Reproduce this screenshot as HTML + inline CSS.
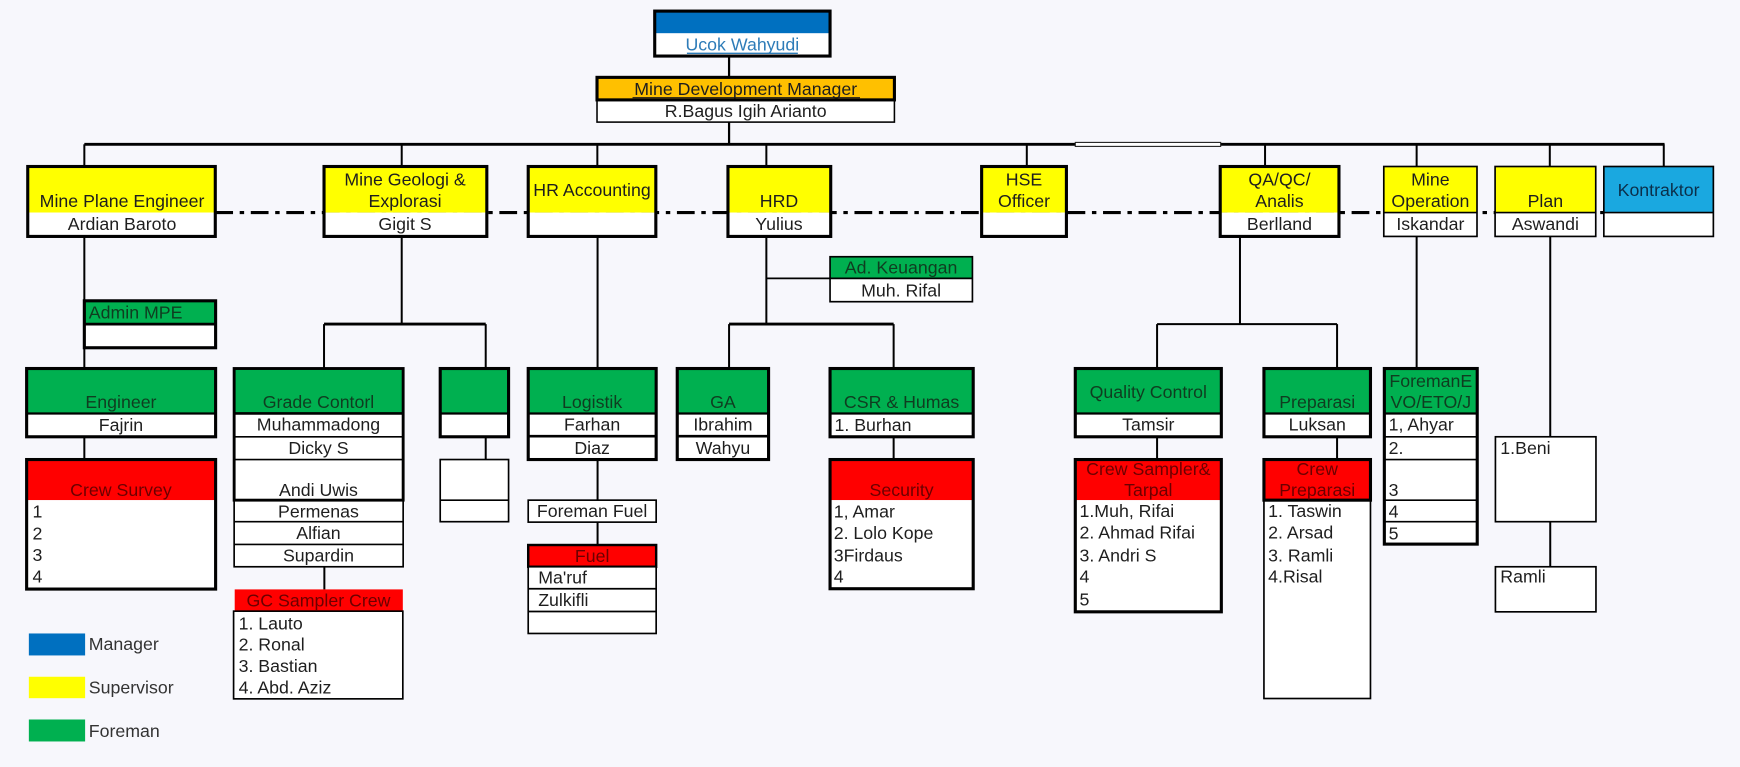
<!DOCTYPE html>
<html><head><meta charset="utf-8"><style>
html,body{margin:0;padding:0;background:#f7f7fc;}
svg{display:block}
.t{font-family:"Liberation Sans",Arial,sans-serif;font-size:16px;fill:#1e1e1e;dominant-baseline:central}
.c{text-anchor:middle}
.g{fill:#0f3d20}
.r{fill:#6b0000}
</style></head><body>
<svg width="1740" height="767" viewBox="0 0 1568 691" preserveAspectRatio="none" xmlns="http://www.w3.org/2000/svg">
<rect x="0" y="0" width="1568" height="691" fill="#f7f7fc"/>

<!-- connectors -->
<g stroke="#000" fill="none">
<line x1="657" y1="50" x2="657" y2="70" stroke-width="2"/>
<line x1="657" y1="110" x2="657" y2="130" stroke-width="2"/>
<line x1="76" y1="130" x2="1500" y2="130" stroke-width="2.6"/>
<g stroke-width="1.8">
<line x1="76" y1="130" x2="76" y2="150"/>
<line x1="362" y1="130" x2="362" y2="150"/>
<line x1="538.3" y1="130" x2="538.3" y2="150"/>
<line x1="690.6" y1="130" x2="690.6" y2="150"/>
<line x1="925.3" y1="130" x2="925.3" y2="150"/>
<line x1="1140" y1="130" x2="1140" y2="150"/>
<line x1="1276.6" y1="130" x2="1276.6" y2="150"/>
<line x1="1396.6" y1="130" x2="1396.6" y2="150"/>
<line x1="1499.3" y1="130" x2="1499.3" y2="150"/>
<!-- MPE -->
<line x1="76" y1="213" x2="76" y2="332"/>
<line x1="76" y1="393.5" x2="76" y2="414"/>
<!-- Geologi -->
<line x1="362" y1="213" x2="362" y2="292"/>
<line x1="292" y1="292" x2="292" y2="332"/>
<line x1="437.7" y1="292" x2="437.7" y2="332"/>
<line x1="437.7" y1="393.5" x2="437.7" y2="414"/>
<line x1="292.3" y1="510.6" x2="292.3" y2="531"/>
<!-- HR Acc -->
<line x1="538.5" y1="213" x2="538.5" y2="332"/>
<line x1="538.5" y1="414" x2="538.5" y2="450.6"/>
<line x1="538.5" y1="470.4" x2="538.5" y2="491"/>
<!-- HRD -->
<line x1="690.6" y1="213" x2="690.6" y2="292"/>
<line x1="690.6" y1="250.8" x2="748" y2="250.8" stroke-width="1.5"/>
<line x1="657" y1="292" x2="657" y2="332"/>
<line x1="805.3" y1="292" x2="805.3" y2="332"/>
<line x1="805.3" y1="393.5" x2="805.3" y2="414"/>
<!-- QA -->
<line x1="1117.4" y1="213" x2="1117.4" y2="292"/>
<line x1="1042.7" y1="292" x2="1042.7" y2="332"/>
<line x1="1204.9" y1="292" x2="1204.9" y2="332"/>
<line x1="1042.7" y1="393.5" x2="1042.7" y2="414"/>
<line x1="1204.9" y1="393.5" x2="1204.9" y2="414"/>
<!-- Mine op -->
<line x1="1276.6" y1="213" x2="1276.6" y2="332"/>
<!-- Plan -->
<line x1="1397" y1="213" x2="1397" y2="393.5"/>
<line x1="1397" y1="470" x2="1397" y2="510.6"/>
</g>
<line x1="292" y1="292" x2="437.7" y2="292" stroke-width="2.6"/>
<line x1="657" y1="292" x2="805.3" y2="292" stroke-width="2.6"/>
<line x1="1042.7" y1="292" x2="1204.9" y2="292" stroke-width="1.8"/>
<!-- dash-dot -->
<line x1="194" y1="191.5" x2="1445" y2="191.5" stroke-width="2.8" stroke-dasharray="16 6 4 6"/>
</g>
<rect x="969" y="128.3" width="131" height="3.6" fill="#fff" stroke="#222" stroke-width="1"/>

<!-- Top: Ucok -->
<rect x="590" y="10" width="158" height="20" fill="#0070c0"/>
<rect x="590" y="30" width="158" height="20.5" fill="#fff"/>
<rect x="590" y="10" width="158" height="40.5" fill="none" stroke="#000" stroke-width="2.8"/>
<text x="669" y="40" class="t c" style="fill:#2e7cb8">Ucok Wahyudi</text>
<line x1="619" y1="48" x2="719" y2="48" stroke="#2e7cb8" stroke-width="1.2"/>

<!-- MDM -->
<rect x="538" y="69.7" width="268" height="20.3" fill="#ffc000"/>
<rect x="538" y="90" width="268" height="20" fill="#fff" stroke="#000" stroke-width="1.4"/>
<rect x="538" y="69.7" width="268" height="20.3" fill="none" stroke="#000" stroke-width="2.8"/>
<text x="672" y="80" class="t c">Mine Development Manager</text>
<line x1="570" y1="88" x2="775" y2="88" stroke="#1e1e1e" stroke-width="1.1"/>
<text x="672" y="100" class="t c">R.Bagus Igih Arianto</text>

<!-- Supervisor boxes -->
<g>
<!-- MPE -->
<rect x="25" y="150" width="169" height="41.5" fill="#ffff00"/>
<rect x="25" y="191.5" width="169" height="21.5" fill="#fff"/>
<rect x="25" y="150" width="169" height="63" fill="none" stroke="#000" stroke-width="2.8"/>
<text x="110" y="181" class="t c">Mine Plane Engineer</text>
<text x="110" y="202" class="t c">Ardian Baroto</text>
<!-- Geologi -->
<rect x="292" y="150" width="146.7" height="41.5" fill="#ffff00"/>
<rect x="292" y="191.5" width="146.7" height="21.5" fill="#fff"/>
<rect x="292" y="150" width="146.7" height="63" fill="none" stroke="#000" stroke-width="2.8"/>
<text x="365" y="161.6" class="t c">Mine Geologi &amp;</text>
<text x="365" y="181" class="t c">Explorasi</text>
<text x="365" y="202" class="t c">Gigit S</text>
<!-- HR Accounting -->
<rect x="476" y="150" width="115" height="41.5" fill="#ffff00"/>
<rect x="476" y="191.5" width="115" height="21.5" fill="#fff"/>
<rect x="476" y="150" width="115" height="63" fill="none" stroke="#000" stroke-width="2.8"/>
<text x="533.5" y="171" class="t c">HR Accounting</text>
<!-- HRD -->
<rect x="656" y="150" width="92.6" height="41.5" fill="#ffff00"/>
<rect x="656" y="191.5" width="92.6" height="21.5" fill="#fff"/>
<rect x="656" y="150" width="92.6" height="63" fill="none" stroke="#000" stroke-width="2.8"/>
<text x="702" y="181" class="t c">HRD</text>
<text x="702" y="202" class="t c">Yulius</text>
<!-- HSE -->
<rect x="884.6" y="150" width="76.4" height="41.5" fill="#ffff00"/>
<rect x="884.6" y="191.5" width="76.4" height="21.5" fill="#fff"/>
<rect x="884.6" y="150" width="76.4" height="63" fill="none" stroke="#000" stroke-width="2.8"/>
<text x="922.8" y="161.6" class="t c">HSE</text>
<text x="922.8" y="181" class="t c">Officer</text>
<!-- QA -->
<rect x="1099.6" y="150" width="107" height="41.5" fill="#ffff00"/>
<rect x="1099.6" y="191.5" width="107" height="21.5" fill="#fff"/>
<rect x="1099.6" y="150" width="107" height="63" fill="none" stroke="#000" stroke-width="2.8"/>
<text x="1153" y="161.6" class="t c">QA/QC/</text>
<text x="1153" y="181" class="t c">Analis</text>
<text x="1153" y="202" class="t c">Berlland</text>
<!-- Mine Operation -->
<rect x="1247" y="150" width="84" height="41.5" fill="#ffff00"/>
<rect x="1247" y="191.5" width="84" height="21.5" fill="#fff"/>
<rect x="1247" y="150" width="84" height="63" fill="none" stroke="#000" stroke-width="1.5"/>
<line x1="1247" y1="191.5" x2="1331" y2="191.5" stroke="#000" stroke-width="1.5"/>
<text x="1289" y="161.6" class="t c">Mine</text>
<text x="1289" y="181" class="t c">Operation</text>
<text x="1289" y="202" class="t c">Iskandar</text>
<!-- Plan -->
<rect x="1347.3" y="150" width="90.7" height="41.5" fill="#ffff00"/>
<rect x="1347.3" y="191.5" width="90.7" height="21.5" fill="#fff"/>
<rect x="1347.3" y="150" width="90.7" height="63" fill="none" stroke="#000" stroke-width="1.5"/>
<line x1="1347.3" y1="191.5" x2="1438" y2="191.5" stroke="#000" stroke-width="1.5"/>
<text x="1392.6" y="181" class="t c">Plan</text>
<text x="1392.6" y="202" class="t c">Aswandi</text>
<!-- Kontraktor -->
<rect x="1445.3" y="150" width="98.7" height="41.5" fill="#1aa8e0"/>
<rect x="1445.3" y="191.5" width="98.7" height="21.5" fill="#fff"/>
<rect x="1445.3" y="150" width="98.7" height="63" fill="none" stroke="#000" stroke-width="1.5"/>
<line x1="1445.3" y1="191.5" x2="1544" y2="191.5" stroke="#000" stroke-width="1.5"/>
<text x="1494.6" y="171" class="t c" style="fill:#0b2f4a">Kontraktor</text>
</g>

<!-- MPE children -->
<rect x="76" y="271" width="118.3" height="21" fill="#00b050"/>
<rect x="76" y="292" width="118.3" height="21.3" fill="#fff"/>
<line x1="76" y1="292" x2="194.3" y2="292" stroke="#000" stroke-width="2.4"/>
<rect x="76" y="271" width="118.3" height="42.3" fill="none" stroke="#000" stroke-width="2.8"/>
<text x="80" y="281.5" class="t g">Admin MPE</text>

<rect x="24" y="332" width="170.3" height="40.5" fill="#00b050"/>
<rect x="24" y="372.5" width="170.3" height="21" fill="#fff"/>
<line x1="24" y1="372.5" x2="194.3" y2="372.5" stroke="#000" stroke-width="2"/>
<rect x="24" y="332" width="170.3" height="61.5" fill="none" stroke="#000" stroke-width="2.8"/>
<text x="109" y="362" class="t c g">Engineer</text>
<text x="109" y="383" class="t c">Fajrin</text>

<rect x="24" y="414" width="170.3" height="36.6" fill="#ff0000"/>
<rect x="24" y="450.6" width="170.3" height="80.1" fill="#fff"/>
<rect x="24" y="414" width="170.3" height="116.7" fill="none" stroke="#000" stroke-width="2.8"/>
<text x="109" y="441.5" class="t c r">Crew Survey</text>
<text x="29.3" y="461" class="t">1</text>
<text x="29.3" y="480.5" class="t">2</text>
<text x="29.3" y="500" class="t">3</text>
<text x="29.3" y="519.6" class="t">4</text>

<!-- Geologi children -->
<rect x="211" y="332" width="152.3" height="40.5" fill="#00b050"/>
<rect x="211" y="372.5" width="152.3" height="138.1" fill="#fff"/>
<g stroke="#000" fill="none" stroke-width="1.5">
<line x1="211" y1="393.5" x2="363.3" y2="393.5"/>
<line x1="211" y1="414" x2="363.3" y2="414"/>
<line x1="211" y1="450.6" x2="363.3" y2="450.6"/>
<line x1="211" y1="470" x2="363.3" y2="470"/>
<line x1="211" y1="490.5" x2="363.3" y2="490.5"/>
<rect x="211" y="450.6" width="152.3" height="60"/>
</g>
<line x1="211" y1="372.5" x2="363.3" y2="372.5" stroke="#000" stroke-width="2.4"/>
<rect x="211" y="332" width="152.3" height="118.6" fill="none" stroke="#000" stroke-width="2.6"/>
<text x="287" y="362" class="t c g">Grade Contorl</text>
<text x="287" y="382.5" class="t c">Muhammadong</text>
<text x="287" y="403.5" class="t c">Dicky S</text>
<text x="287" y="441.5" class="t c">Andi Uwis</text>
<text x="287" y="461" class="t c">Permenas</text>
<text x="287" y="480" class="t c">Alfian</text>
<text x="287" y="500.5" class="t c">Supardin</text>

<rect x="211.5" y="531" width="151.5" height="19.6" fill="#ff0000"/>
<rect x="210.5" y="550.6" width="152.5" height="79" fill="#fff" stroke="#000" stroke-width="1.5"/>
<text x="287" y="541" class="t c r">GC Sampler Crew</text>
<text x="215" y="561.7" class="t">1. Lauto</text>
<text x="215" y="580.5" class="t">2. Ronal</text>
<text x="215" y="600" class="t">3. Bastian</text>
<text x="215" y="619.4" class="t">4. Abd. Aziz</text>

<rect x="396.7" y="332" width="61.6" height="40.5" fill="#00b050"/>
<rect x="396.7" y="372.5" width="61.6" height="21" fill="#fff"/>
<line x1="396.7" y1="372.5" x2="458.3" y2="372.5" stroke="#000" stroke-width="2"/>
<rect x="396.7" y="332" width="61.6" height="61.5" fill="none" stroke="#000" stroke-width="2.8"/>
<rect x="396.7" y="414" width="61.6" height="56" fill="#fff" stroke="#000" stroke-width="1.5"/>
<line x1="396.7" y1="450.6" x2="458.3" y2="450.6" stroke="#000" stroke-width="1.5"/>

<!-- HR Accounting children -->
<rect x="476" y="332" width="115.3" height="40.5" fill="#00b050"/>
<rect x="476" y="372.5" width="115.3" height="41.5" fill="#fff"/>
<line x1="476" y1="372.5" x2="591.3" y2="372.5" stroke="#000" stroke-width="2"/>
<line x1="476" y1="393" x2="591.3" y2="393" stroke="#000" stroke-width="2.4"/>
<rect x="476" y="332" width="115.3" height="82" fill="none" stroke="#000" stroke-width="2.8"/>
<text x="533.6" y="362" class="t c g">Logistik</text>
<text x="533.6" y="382.5" class="t c">Farhan</text>
<text x="533.6" y="403.5" class="t c">Diaz</text>

<rect x="476" y="450.6" width="115.3" height="19.8" fill="#fff" stroke="#000" stroke-width="1.5"/>
<text x="533.6" y="460.5" class="t c">Foreman Fuel</text>

<rect x="476" y="491" width="115.3" height="19.6" fill="#ff0000" stroke="#000" stroke-width="2.2"/>
<rect x="476" y="510.6" width="115.3" height="60.1" fill="#fff" stroke="#000" stroke-width="1.5"/>
<line x1="476" y1="530.4" x2="591.3" y2="530.4" stroke="#000" stroke-width="1.5"/>
<line x1="476" y1="550.9" x2="591.3" y2="550.9" stroke="#000" stroke-width="1.5"/>
<text x="533.6" y="501" class="t c r">Fuel</text>
<text x="485" y="520.5" class="t">Ma'ruf</text>
<text x="485" y="540.5" class="t">Zulkifli</text>

<!-- HRD children -->
<rect x="748" y="231.3" width="128.3" height="19.5" fill="#00b050"/>
<rect x="748" y="250.8" width="128.3" height="21" fill="#fff"/>
<rect x="748" y="231.3" width="128.3" height="40.5" fill="none" stroke="#000" stroke-width="1.5"/>
<line x1="748" y1="250.8" x2="876.3" y2="250.8" stroke="#000" stroke-width="1.5"/>
<text x="812" y="241" class="t c g">Ad. Keuangan</text>
<text x="812" y="261.5" class="t c">Muh. Rifal</text>

<rect x="610.3" y="332" width="82.3" height="40.5" fill="#00b050"/>
<rect x="610.3" y="372.5" width="82.3" height="41.5" fill="#fff"/>
<line x1="610.3" y1="372.5" x2="692.6" y2="372.5" stroke="#000" stroke-width="2"/>
<line x1="610.3" y1="393" x2="692.6" y2="393" stroke="#000" stroke-width="2.4"/>
<rect x="610.3" y="332" width="82.3" height="82" fill="none" stroke="#000" stroke-width="2.8"/>
<text x="651.5" y="362" class="t c g">GA</text>
<text x="651.5" y="382.5" class="t c">Ibrahim</text>
<text x="651.5" y="403.5" class="t c">Wahyu</text>

<rect x="748" y="332" width="129" height="40.5" fill="#00b050"/>
<rect x="748" y="372.5" width="129" height="21" fill="#fff"/>
<line x1="748" y1="372.5" x2="877" y2="372.5" stroke="#000" stroke-width="2"/>
<rect x="748" y="332" width="129" height="61.5" fill="none" stroke="#000" stroke-width="2.8"/>
<text x="812.5" y="362" class="t c g">CSR &amp; Humas</text>
<text x="752" y="383" class="t">1. Burhan</text>

<rect x="748" y="414" width="129" height="36.6" fill="#ff0000"/>
<rect x="748" y="450.6" width="129" height="79.8" fill="#fff"/>
<rect x="748" y="414" width="129" height="116.4" fill="none" stroke="#000" stroke-width="2.8"/>
<text x="812.5" y="441.5" class="t c r">Security</text>
<text x="751.3" y="461" class="t">1, Amar</text>
<text x="751.3" y="480" class="t">2. Lolo Kope</text>
<text x="751.3" y="500.4" class="t">3Firdaus</text>
<text x="751.3" y="519.6" class="t">4</text>

<!-- QA children -->
<rect x="969" y="332" width="131.6" height="40.5" fill="#00b050"/>
<rect x="969" y="372.5" width="131.6" height="21" fill="#fff"/>
<line x1="969" y1="372.5" x2="1100.6" y2="372.5" stroke="#000" stroke-width="2"/>
<rect x="969" y="332" width="131.6" height="61.5" fill="none" stroke="#000" stroke-width="2.8"/>
<text x="1034.8" y="353" class="t c g">Quality Control</text>
<text x="1034.8" y="382.5" class="t c">Tamsir</text>

<rect x="969" y="414" width="131.6" height="36.6" fill="#ff0000"/>
<rect x="969" y="450.6" width="131.6" height="100.6" fill="#fff"/>
<rect x="969" y="414" width="131.6" height="137.2" fill="none" stroke="#000" stroke-width="2.8"/>
<text x="1034.8" y="422.6" class="t c r">Crew Sampler&amp;</text>
<text x="1034.8" y="441.5" class="t c r">Tarpal</text>
<text x="972.8" y="460.5" class="t">1.Muh, Rifai</text>
<text x="972.8" y="479.7" class="t">2. Ahmad Rifai</text>
<text x="972.8" y="500.4" class="t">3. Andri S</text>
<text x="972.8" y="519.6" class="t">4</text>
<text x="972.8" y="540" class="t">5</text>

<rect x="1139" y="332" width="96" height="40.5" fill="#00b050"/>
<rect x="1139" y="372.5" width="96" height="21" fill="#fff"/>
<line x1="1139" y1="372.5" x2="1235" y2="372.5" stroke="#000" stroke-width="2"/>
<rect x="1139" y="332" width="96" height="61.5" fill="none" stroke="#000" stroke-width="2.8"/>
<text x="1187" y="362" class="t c g">Preparasi</text>
<text x="1187" y="382.5" class="t c">Luksan</text>

<rect x="1139" y="450.6" width="96" height="178.7" fill="#fff" stroke="#000" stroke-width="1.5"/>
<rect x="1139" y="414" width="96" height="36.6" fill="#ff0000" stroke="#000" stroke-width="2.8"/>
<text x="1187" y="422.6" class="t c r">Crew</text>
<text x="1187" y="441.5" class="t c r">Preparasi</text>
<text x="1142.8" y="460.5" class="t">1. Taswin</text>
<text x="1142.8" y="479.7" class="t">2. Arsad</text>
<text x="1142.8" y="500.4" class="t">3. Ramli</text>
<text x="1142.8" y="519.6" class="t">4.Risal</text>

<!-- Mine Operation children -->
<rect x="1247.5" y="332" width="83.7" height="40.5" fill="#00b050"/>
<rect x="1247.5" y="372.5" width="83.7" height="117.7" fill="#fff"/>
<g stroke="#000" stroke-width="1.5">
<line x1="1247.5" y1="393.5" x2="1331.2" y2="393.5"/>
<line x1="1247.5" y1="414" x2="1331.2" y2="414"/>
<line x1="1247.5" y1="450.6" x2="1331.2" y2="450.6"/>
<line x1="1247.5" y1="470" x2="1331.2" y2="470"/>
</g>
<line x1="1247.5" y1="372.5" x2="1331.2" y2="372.5" stroke="#000" stroke-width="2"/>
<rect x="1247.5" y="332" width="83.7" height="158.2" fill="none" stroke="#000" stroke-width="2.8"/>
<text x="1289.4" y="343.3" class="t c g">ForemanE</text>
<text x="1289.4" y="362" class="t c g">VO/ETO/J</text>
<text x="1251.4" y="382.5" class="t">1, Ahyar</text>
<text x="1251.4" y="403.5" class="t">2.</text>
<text x="1251.4" y="441.5" class="t">3</text>
<text x="1251.4" y="461" class="t">4</text>
<text x="1251.4" y="480.5" class="t">5</text>

<!-- Plan children -->
<rect x="1347.6" y="393.5" width="90.6" height="76.5" fill="#fff" stroke="#000" stroke-width="1.5"/>
<text x="1352" y="403.4" class="t">1.Beni</text>
<rect x="1347.6" y="510.6" width="90.6" height="40.6" fill="#fff" stroke="#000" stroke-width="1.5"/>
<text x="1352" y="519.6" class="t">Ramli</text>

<!-- Legend -->
<rect x="26" y="570.7" width="50.7" height="19.8" fill="#0070c0"/>
<rect x="26" y="609.7" width="50.7" height="19.3" fill="#ffff00"/>
<rect x="26" y="648.2" width="50.7" height="19.8" fill="#00b050"/>
<text x="80" y="580.3" class="t" style="fill:#333">Manager</text>
<text x="80" y="619.4" class="t" style="fill:#333">Supervisor</text>
<text x="80" y="658.4" class="t" style="fill:#333">Foreman</text>
</svg>
</body></html>
